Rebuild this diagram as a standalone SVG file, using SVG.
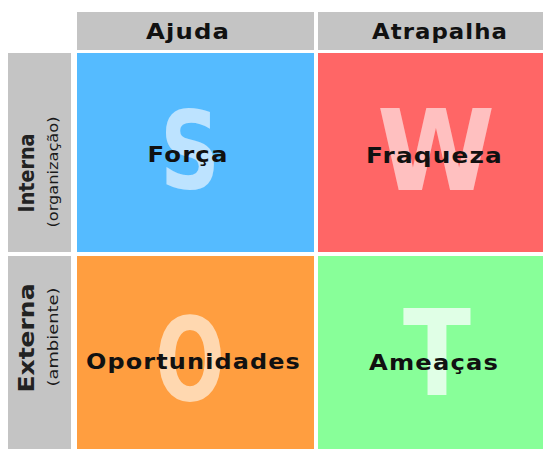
<svg xmlns="http://www.w3.org/2000/svg" width="543" height="449" viewBox="0 0 543 449">
<style>
.hdr{fill:#C4C4C4}
.lbl{font-family:"DejaVu Sans","Liberation Sans",sans-serif;font-weight:bold;fill:#111;text-anchor:middle;letter-spacing:1px}
.side{font-family:"DejaVu Sans Condensed","DejaVu Sans","Liberation Sans",sans-serif;font-weight:bold;fill:#222;text-anchor:middle}
.sub{font-family:"DejaVu Sans Condensed","DejaVu Sans","Liberation Sans",sans-serif;fill:#1a1a1a;text-anchor:middle}
.big{font-family:"DejaVu Sans Condensed","DejaVu Sans",sans-serif;font-weight:bold;text-anchor:middle}
</style>
<rect width="543" height="449" fill="#FFFFFF"/>
<g id="header-ajuda">
<rect class="hdr" x="77" y="12" width="237" height="38"/>
<text class="lbl" x="188" y="39" font-size="22" textLength="84" lengthAdjust="spacingAndGlyphs">Ajuda</text>
</g>
<g id="header-atrapalha">
<rect class="hdr" x="318" y="12" width="225" height="38"/>
<text class="lbl" x="440" y="39" font-size="22" textLength="136" lengthAdjust="spacingAndGlyphs">Atrapalha</text>
</g>
<g id="side-interna">
<rect class="hdr" x="8" y="53" width="63" height="199"/>
<text class="side" transform="translate(34,173) rotate(-90)" font-size="22" textLength="79" lengthAdjust="spacingAndGlyphs">Interna</text>
<text class="sub" transform="translate(58,172) rotate(-90)" font-size="14" textLength="111" lengthAdjust="spacingAndGlyphs">(organização)</text>
</g>
<g id="side-externa">
<rect class="hdr" x="8" y="256" width="63" height="193"/>
<text class="side" transform="translate(34,338) rotate(-90)" font-size="22" textLength="109" lengthAdjust="spacingAndGlyphs">Externa</text>
<text class="sub" transform="translate(58,337) rotate(-90)" font-size="14" textLength="99" lengthAdjust="spacingAndGlyphs">(ambiente)</text>
</g>
<g id="forca">
<rect x="77" y="53" width="237" height="199" fill="#55BBFF"/>
<text class="big" x="190" y="188" font-size="108" fill="#BDE3FF" textLength="60" lengthAdjust="spacingAndGlyphs">S</text>
<text class="lbl" x="188" y="162" font-size="21" textLength="81" lengthAdjust="spacingAndGlyphs">Força</text>
</g>
<g id="fraqueza">
<rect x="318" y="53" width="225" height="199" fill="#FF6666"/>
<text class="big" x="436" y="190" font-size="112" fill="#FFC0C0" textLength="118" lengthAdjust="spacingAndGlyphs">W</text>
<text class="lbl" x="434.5" y="163" font-size="21" textLength="137" lengthAdjust="spacingAndGlyphs">Fraqueza</text>
</g>
<g id="oportunidades">
<rect x="77" y="256" width="237" height="193" fill="#FF9E40"/>
<text class="big" x="190" y="400" font-size="115" fill="#FFD8B0" textLength="70" lengthAdjust="spacingAndGlyphs">O</text>
<text class="lbl" x="193.5" y="369" font-size="21" textLength="215" lengthAdjust="spacingAndGlyphs">Oportunidades</text>
</g>
<g id="ameacas">
<rect x="318" y="256" width="225" height="193" fill="#88FF99"/>
<text class="big" x="437" y="395" font-size="119" fill="#E0FFE6" textLength="68" lengthAdjust="spacingAndGlyphs">T</text>
<text class="lbl" x="434" y="370" font-size="21" textLength="130" lengthAdjust="spacingAndGlyphs">Ameaças</text>
</g>
<g id="connectors"/>
</svg>
